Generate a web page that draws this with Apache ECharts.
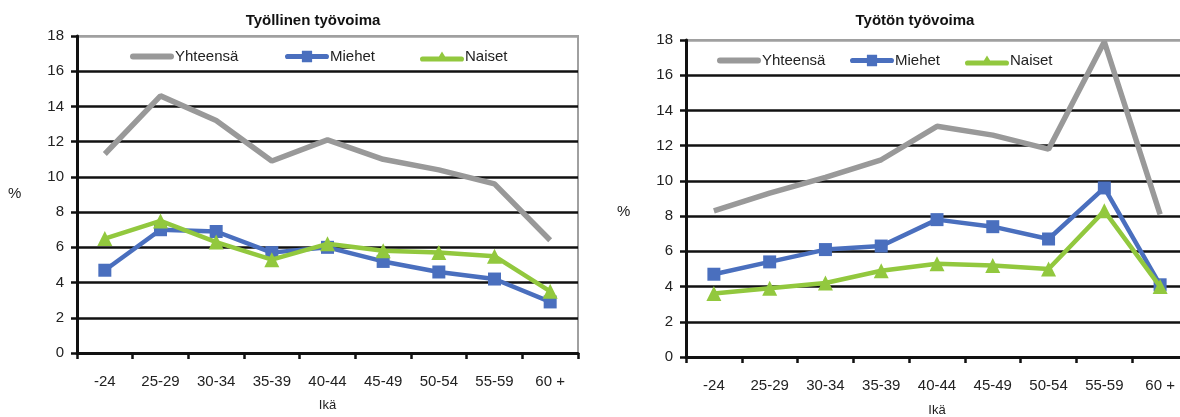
<!DOCTYPE html>
<html>
<head>
<meta charset="utf-8">
<script src="https://cdn.jsdelivr.net/npm/echarts@6/dist/echarts.min.js"></script>
<style>
html,body{margin:0;padding:0;background:#fff;}
#c{width:1180px;height:417px;}
</style>
</head>
<body>
<div id="c"></div>
<script>
var categories = ['-24','25-29','30-34','35-39','40-44','45-49','50-54','55-59','60 +'];
var yTicks = [0,2,4,6,8,10,12,14,16,18];
var seriesNames = ['Yhteensä','Miehet','Naiset'];
var employedTotal = [11.3,14.6,13.2,10.9,12.1,11.0,10.4,9.6,6.4];
var employedMen = [4.7,7.0,6.9,5.7,6.0,5.2,4.6,4.2,2.9];
var employedWomen = [6.5,7.5,6.3,5.3,6.2,5.8,5.7,5.5,3.5];
var unemployedTotal = [8.3,9.3,10.2,11.2,13.1,12.6,11.8,17.9,8.1];
var unemployedMen = [4.7,5.4,6.1,6.3,7.8,7.4,6.7,9.6,4.1];
var unemployedWomen = [3.6,3.9,4.2,4.9,5.3,5.2,5.0,8.3,4.0];

var FONT = '"Liberation Sans", Arial, sans-serif';
var GRAY = '#999999', BLUE = '#4a6fbe', GREEN = '#92c83e';
var splitColors = yTicks.map(function(v, i){ return i === yTicks.length - 1 ? '#a0a0a0' : '#111'; });

var ICONS = {
  'Yhteensä': 'path://M3,4 L41,4 A3,3 0 0 1 41,10 L3,10 A3,3 0 0 1 3,4 Z',
  'Miehet': 'path://M3,4.5 L41,4.5 A2.5,2.5 0 0 1 41,9.5 L3,9.5 A2.5,2.5 0 0 1 3,4.5 Z M17,1.5 L27,1.5 L27,12.5 L17,12.5 Z',
  'Naiset': 'path://M3,5 L41,5 A2.5,2.5 0 0 1 41,10 L3,10 A2.5,2.5 0 0 1 3,5 Z M22,0 L28,10 L16,10 Z'
};

function xAxis(idx){
  return {
    type:'category', gridIndex: idx, data: categories,
    name: 'Ikä', nameLocation:'middle', nameGap: idx === 0 ? 46 : 47,
    nameTextStyle:{fontFamily:FONT, fontSize:13, color:'#222'},
    axisLine:{lineStyle:{color:'#111', width:3}},
    axisTick:{show:true, length:6, lineStyle:{color:'#111', width:2.5}},
    axisLabel:{fontFamily:FONT, fontSize:15, color:'#222', margin: 21, interval:0}
  };
}
function yAxis(idx){
  return {
    type:'value', gridIndex: idx, min: yTicks[0], max: yTicks[yTicks.length-1], interval: 2,
    axisLine:{show:true, lineStyle:{color:'#111', width:3}},
    axisTick:{show:true, length:6, lineStyle:{color:'#111', width:2.5}},
    axisLabel:{fontFamily:FONT, fontSize:15, color:'#222', margin:13},
    splitLine:{show:true, lineStyle:{color:splitColors, width:2.5}}
  };
}
function totalSeries(idx, data){
  return {name:seriesNames[0], type:'line', xAxisIndex:idx, yAxisIndex:idx, data:data,
    symbol:'none', lineStyle:{color:GRAY, width:5.5}, itemStyle:{color:GRAY}, z:2};
}
function menSeries(idx, data){
  return {name:seriesNames[1], type:'line', xAxisIndex:idx, yAxisIndex:idx, data:data,
    symbol:'rect', symbolSize:13, showSymbol:true,
    lineStyle:{color:BLUE, width:4.5}, itemStyle:{color:BLUE}, z:3};
}
function womenSeries(idx, data){
  return {name:seriesNames[2], type:'line', xAxisIndex:idx, yAxisIndex:idx, data:data,
    symbol:'triangle', symbolSize:15, showSymbol:true,
    lineStyle:{color:GREEN, width:4.5}, itemStyle:{color:GREEN}, z:4};
}
function legend(name, left, top){
  return {data:[{name:name, icon:ICONS[name]}], left:left, top:top, itemWidth:44, itemHeight:14, itemGap:0,
    textStyle:{fontFamily:FONT, fontSize:15, color:'#222', padding:[0,0,0,-4]}, selectedMode:false};
}

var chart = echarts.init(document.getElementById('c'), null, {renderer:'canvas'});
chart.setOption({
  animation:false,
  backgroundColor:'#fff',
  title:[
    {text:'Työllinen työvoima', left:308, top:8, textAlign:'center',
     textStyle:{fontFamily:FONT, fontSize:15, fontWeight:'bold', color:'#111'}},
    {text:'Työtön työvoima', left:910, top:8, textAlign:'center',
     textStyle:{fontFamily:FONT, fontSize:15, fontWeight:'bold', color:'#111'}}
  ],
  graphic:[
    {type:'text', left:8, top:186, style:{text:'%', fontFamily:FONT, fontSize:15, fill:'#222'}},
    {type:'text', left:617, top:204, style:{text:'%', fontFamily:FONT, fontSize:15, fill:'#222'}}
  ],
  legend:[
    legend(seriesNames[0], 125, 44), legend(seriesNames[1], 280, 44), legend(seriesNames[2], 415, 44),
    legend(seriesNames[0], 712, 48), legend(seriesNames[1], 845, 48), legend(seriesNames[2], 960, 48)
  ],
  grid:[
    {left:77, top:36, width:501, height:317, outerBoundsMode:'none', containLabel:false,
     show:true, borderColor:'#a0a0a0', borderWidth:2, backgroundColor:'transparent'},
    {left:686, top:40, width:502, height:317, outerBoundsMode:'none', containLabel:false,
     show:true, borderColor:'#a0a0a0', borderWidth:2, backgroundColor:'transparent'}
  ],
  xAxis:[xAxis(0), xAxis(1)],
  yAxis:[yAxis(0), yAxis(1)],
  series:[
    totalSeries(0, employedTotal), menSeries(0, employedMen), womenSeries(0, employedWomen),
    totalSeries(1, unemployedTotal), menSeries(1, unemployedMen), womenSeries(1, unemployedWomen)
  ]
});
</script>
</body>
</html>
